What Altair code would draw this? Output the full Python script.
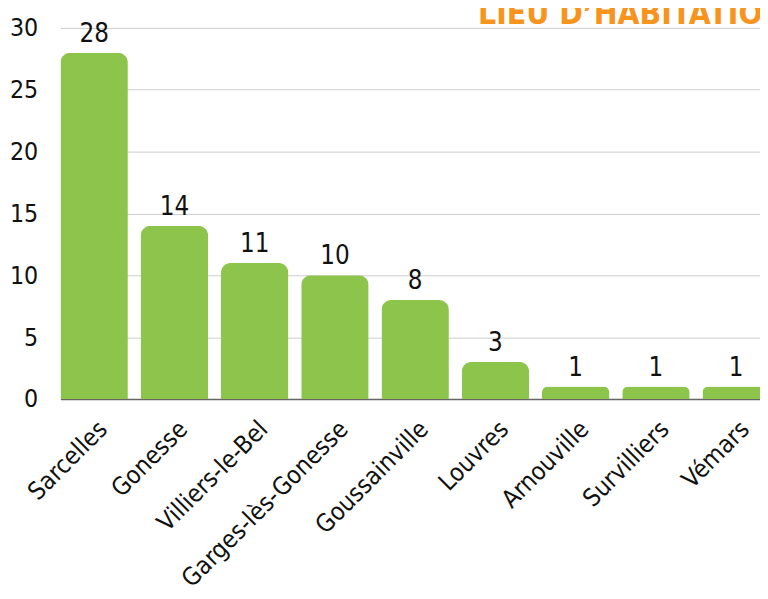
import altair as alt
import pandas as pd

cities = ["Sarcelles", "Gonesse", "Villiers-le-Bel", "Garges-lès-Gonesse", "Goussainville",
          "Louvres", "Arnouville", "Survilliers", "Vémars"]
counts = [28, 14, 11, 10, 8, 3, 1, 1, 1]
title_text = ["LIEU D’HABITATION"]
y_ticks = [0, 5, 10, 15, 20, 25, 30]

df = pd.DataFrame({"ville": cities, "n": counts})
tdf = pd.DataFrame({"t": title_text})

FONT = "'DejaVu Sans Condensed', 'DejaVu Sans', sans-serif"
GREEN = "#8dc44b"
ORANGE = "#f7941d"

x = alt.X("ville:N", sort=cities, title=None,
          scale=alt.Scale(paddingInner=0.16, paddingOuter=0),
          axis=alt.Axis(labelAngle=-45, labelFontSize=25, labelFont=FONT, labelColor="#111",
                        ticks=False, labelPadding=26, labelOffset=9, domainColor="#666", domainWidth=1.5,
                        labelAlign="right", labelBaseline="middle", labelLimit=0))
y = alt.Y("n:Q", title=None,
          scale=alt.Scale(domain=[0, 30], nice=False),
          axis=alt.Axis(values=y_ticks, labelFontSize=25, labelFont=FONT, labelColor="#111",
                        ticks=False, domain=False, labelPadding=23, gridColor="#cccccc"))

bars = alt.Chart(df).mark_bar(color=GREEN, cornerRadiusTopLeft=10, cornerRadiusTopRight=10).encode(x=x, y=y)
labels = alt.Chart(df).mark_text(font=FONT, fontSize=26, color="#111", baseline="alphabetic", dy=-11).encode(
    x=alt.X("ville:N", sort=cities), y="n:Q", text="n:Q")
title = alt.Chart(tdf).mark_text(font=FONT, fontSize=32, fontWeight="bold", color=ORANGE,
                                 align="left", baseline="alphabetic").encode(
    x=alt.value(422), y=alt.value(-4), text="t:N")

chart = alt.layer(bars, labels, title).properties(
    width=717, height=375,
    autosize=alt.AutoSizeParams(type="none"),
    padding={"left": 53, "top": 17, "right": -10, "bottom": 199},
).configure_view(stroke=None).configure_axis(gridWidth=1)

chart.save("out.html", embed_options={"renderer": "svg", "actions": False})
